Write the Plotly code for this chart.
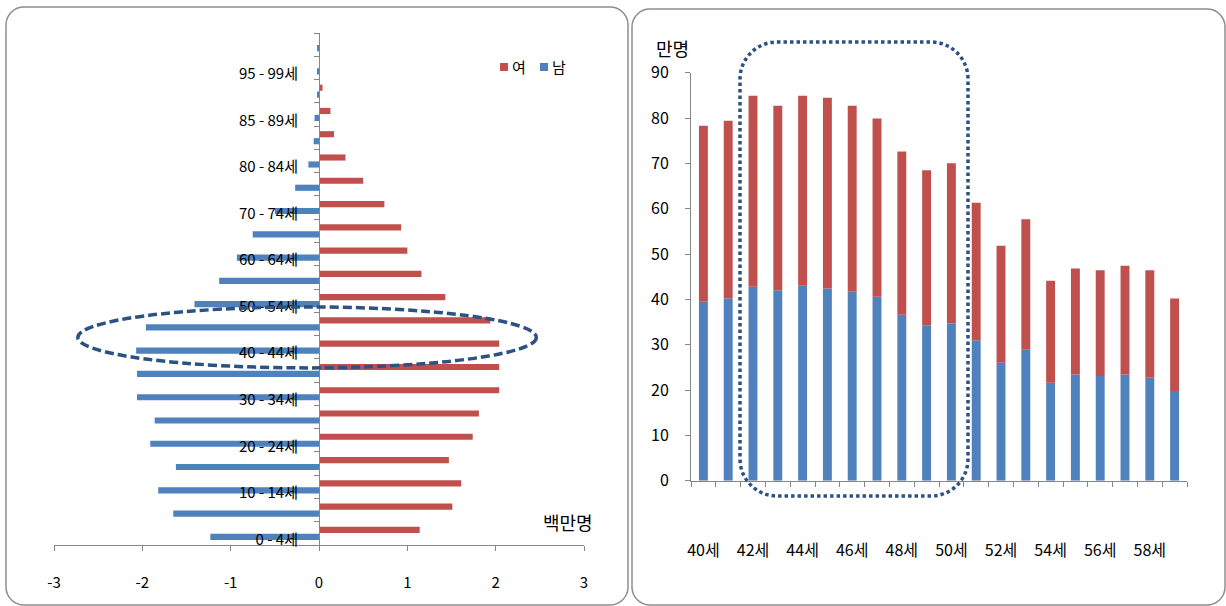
import plotly.graph_objects as go

W, H = 1226, 606

# ---- 왼쪽 그래프: 5세 단위 연령별 인구 (백만명) ----
age_groups = [
    "0 - 4세", "5 - 9세", "10 - 14세", "15 - 19세", "20 - 24세", "25 - 29세",
    "30 - 34세", "35 - 39세", "40 - 44세", "45 - 49세", "50 - 54세", "55 - 59세",
    "60 - 64세", "65 - 69세", "70 - 74세", "75 - 79세", "80 - 84세", "80세 이상",
    "85 - 89세", "90 - 94세", "95 - 99세", "100세 이상",
]
male_m = [-1.23, -1.65, -1.82, -1.62, -1.91, -1.86, -2.06, -2.06, -2.07, -1.96, -1.41,
          -1.13, -0.93, -0.75, -0.50, -0.27, -0.12, -0.06, -0.05, -0.02, -0.02, -0.02]
female_m = [1.14, 1.51, 1.61, 1.47, 1.74, 1.81, 2.04, 2.04, 2.04, 1.94, 1.43,
            1.16, 1.00, 0.93, 0.74, 0.50, 0.30, 0.17, 0.13, 0.04, 0.0, 0.0]
pop_ticks = [-3, -2, -1, 0, 1, 2, 3]
pop_tick_text = ["-3", "-2", "-1", "0", "1", "2", "3"]

# ---- 오른쪽 그래프: 40~59세 각 세별 인구 (만명) ----
ages = ["40세", "41세", "42세", "43세", "44세", "45세", "46세", "47세", "48세", "49세",
        "50세", "51세", "52세", "53세", "54세", "55세", "56세", "57세", "58세", "59세"]
male_10k = [39.5, 40.2, 42.8, 42.0, 43.0, 42.4, 41.7, 40.6, 36.6, 34.3,
            34.7, 31.0, 26.0, 28.9, 21.6, 23.4, 23.1, 23.4, 22.7, 19.8]
female_10k = [38.8, 39.2, 42.1, 40.7, 41.9, 42.1, 41.0, 39.3, 36.0, 34.2,
              35.3, 30.3, 25.8, 28.8, 22.5, 23.4, 23.3, 24.0, 23.7, 20.4]

BLUE = "#4F81BD"
RED = "#C0504D"
NAVY = "#2B5283"
AXIS = "#868686"
FRAME = "#8E8E8E"
FONT = "Noto Sans CJK KR"


def px_x(v):
    return v / W


def px_y(v):
    return 1 - v / H


def rounded_path(x0, y0, x1, y1, r):
    """Rounded rectangle in pixel units, returned as a paper-space SVG path."""
    k = 0.552 * r
    X, Y = px_x, px_y
    return (
        f"M {X(x0 + r)},{Y(y0)} L {X(x1 - r)},{Y(y0)} "
        f"C {X(x1 - r + k)},{Y(y0)} {X(x1)},{Y(y0 + r - k)} {X(x1)},{Y(y0 + r)} "
        f"L {X(x1)},{Y(y1 - r)} "
        f"C {X(x1)},{Y(y1 - r + k)} {X(x1 - r + k)},{Y(y1)} {X(x1 - r)},{Y(y1)} "
        f"L {X(x0 + r)},{Y(y1)} "
        f"C {X(x0 + r - k)},{Y(y1)} {X(x0)},{Y(y1 - r + k)} {X(x0)},{Y(y1 - r)} "
        f"L {X(x0)},{Y(y0 + r)} "
        f"C {X(x0)},{Y(y0 + r - k)} {X(x0 + r - k)},{Y(y0)} {X(x0 + r)},{Y(y0)} Z"
    )


fig = go.Figure()

# 인구 피라미드 (남: 음수, 여: 양수)
fig.add_trace(go.Bar(y=age_groups, x=male_m, orientation="h", name="남",
                     marker=dict(color=BLUE, line=dict(width=0)),
                     xaxis="x", yaxis="y"))
fig.add_trace(go.Bar(y=age_groups, x=female_m, orientation="h", name="여",
                     marker=dict(color=RED, line=dict(width=0)),
                     xaxis="x", yaxis="y"))

# 세별 누적 막대 (남 아래, 여 위)
fig.add_trace(go.Bar(x=ages, y=male_10k, name="남", offsetgroup="s", width=0.36,
                     marker=dict(color=BLUE, line=dict(width=0)),
                     xaxis="x2", yaxis="y2"))
fig.add_trace(go.Bar(x=ages, y=female_10k, base=male_10k, name="여", offsetgroup="s",
                     width=0.36, marker=dict(color=RED, line=dict(width=0)),
                     xaxis="x2", yaxis="y2"))

left_dom = [px_x(54), px_x(584)]

fig.update_layout(
    width=W, height=H,
    margin=dict(l=0, r=0, t=0, b=0, autoexpand=False),
    paper_bgcolor="white", plot_bgcolor="white",
    barmode="group", bargap=0.4, bargroupgap=0.12,
    showlegend=False,
    font=dict(family=FONT, size=15, color="#000000"),
    xaxis=dict(
        domain=left_dom, anchor="y", range=[-3, 3],
        tickmode="array", tickvals=pop_ticks, ticktext=pop_tick_text,
        ticks="outside", ticklen=5, tickcolor=AXIS, automargin=False,
        showline=True, linecolor=AXIS, linewidth=1,
        showgrid=False, zeroline=False, ticklabelstandoff=19,
    ),
    yaxis=dict(
        domain=[px_y(545), px_y(33)], type="category", automargin=False,
        anchor="free", position=(left_dom[0] + left_dom[1]) / 2,
        tickmode="array", tickvals=age_groups,
        ticktext=[g if i % 2 == 0 else "" for i, g in enumerate(age_groups)],
        tickson="boundaries", ticks="outside", ticklen=5, tickcolor=AXIS,
        showline=True, linecolor=AXIS, linewidth=1,
        showgrid=False, zeroline=False,
        ticklabelstandoff=18, ticklabelshift=6,
    ),
    xaxis2=dict(
        domain=[px_x(691), px_x(1187)], anchor="y2", type="category", automargin=False,
        tickmode="array", tickvals=ages, tickangle=0,
        ticktext=[a if i % 2 == 0 else "" for i, a in enumerate(ages)],
        tickson="boundaries", ticks="outside", ticklen=5, tickcolor=AXIS,
        showline=True, linecolor=AXIS, linewidth=1, tickfont=dict(size=16),
        showgrid=False, zeroline=False, ticklabelstandoff=55,
    ),
    yaxis2=dict(
        domain=[px_y(480.7), px_y(72.7)], anchor="x2", range=[0, 90], dtick=10,
        ticks="outside", ticklen=5, tickcolor=AXIS, automargin=False,
        showline=True, linecolor=AXIS, linewidth=1, tickfont=dict(size=16),
        showgrid=False, zeroline=False, ticklabelstandoff=13,
    ),
)

shapes = [
    # panel frames
    dict(type="path", xref="paper", yref="paper", path=rounded_path(6, 7, 628, 605, 18),
         line=dict(color=FRAME, width=1.5), fillcolor="rgba(0,0,0,0)", layer="below"),
    dict(type="path", xref="paper", yref="paper", path=rounded_path(632, 9, 1225, 605, 18),
         line=dict(color=FRAME, width=1.5), fillcolor="rgba(0,0,0,0)", layer="below"),
    # dashed ellipse around the 40-50s bars
    dict(type="circle", xref="x", yref="y", x0=-2.73, x1=2.46, y0=7.11, y1=9.73,
         line=dict(color=NAVY, width=3.5, dash="9px,4px"), fillcolor="rgba(0,0,0,0)"),
    # dotted rounded box around 42-50세
    dict(type="path", xref="paper", yref="paper", path=rounded_path(740, 42, 968, 496, 37),
         line=dict(color=NAVY, width=3.5, dash="3.5px,3px"), fillcolor="rgba(0,0,0,0)"),
    # legend swatches
    dict(type="rect", xref="paper", yref="paper",
         x0=px_x(500), x1=px_x(508), y0=px_y(71), y1=px_y(63),
         fillcolor=RED, line=dict(width=0)),
    dict(type="rect", xref="paper", yref="paper",
         x0=px_x(540), x1=px_x(548), y0=px_y(71), y1=px_y(63),
         fillcolor=BLUE, line=dict(width=0)),
]

annotations = [
    dict(text="여", x=px_x(510), y=px_y(67), xref="paper", yref="paper",
         xanchor="left", yanchor="middle", showarrow=False, font=dict(size=15)),
    dict(text="남", x=px_x(550), y=px_y(67), xref="paper", yref="paper",
         xanchor="left", yanchor="middle", showarrow=False, font=dict(size=15)),
    dict(text="백만명", x=px_x(568), y=px_y(522), xref="paper", yref="paper",
         xanchor="center", yanchor="middle", showarrow=False, font=dict(size=18)),
    dict(text="만명", x=px_x(672), y=px_y(48), xref="paper", yref="paper",
         xanchor="center", yanchor="middle", showarrow=False, font=dict(size=18)),
]

fig.update_layout(shapes=shapes, annotations=annotations)

fig.write_html("out.html")
